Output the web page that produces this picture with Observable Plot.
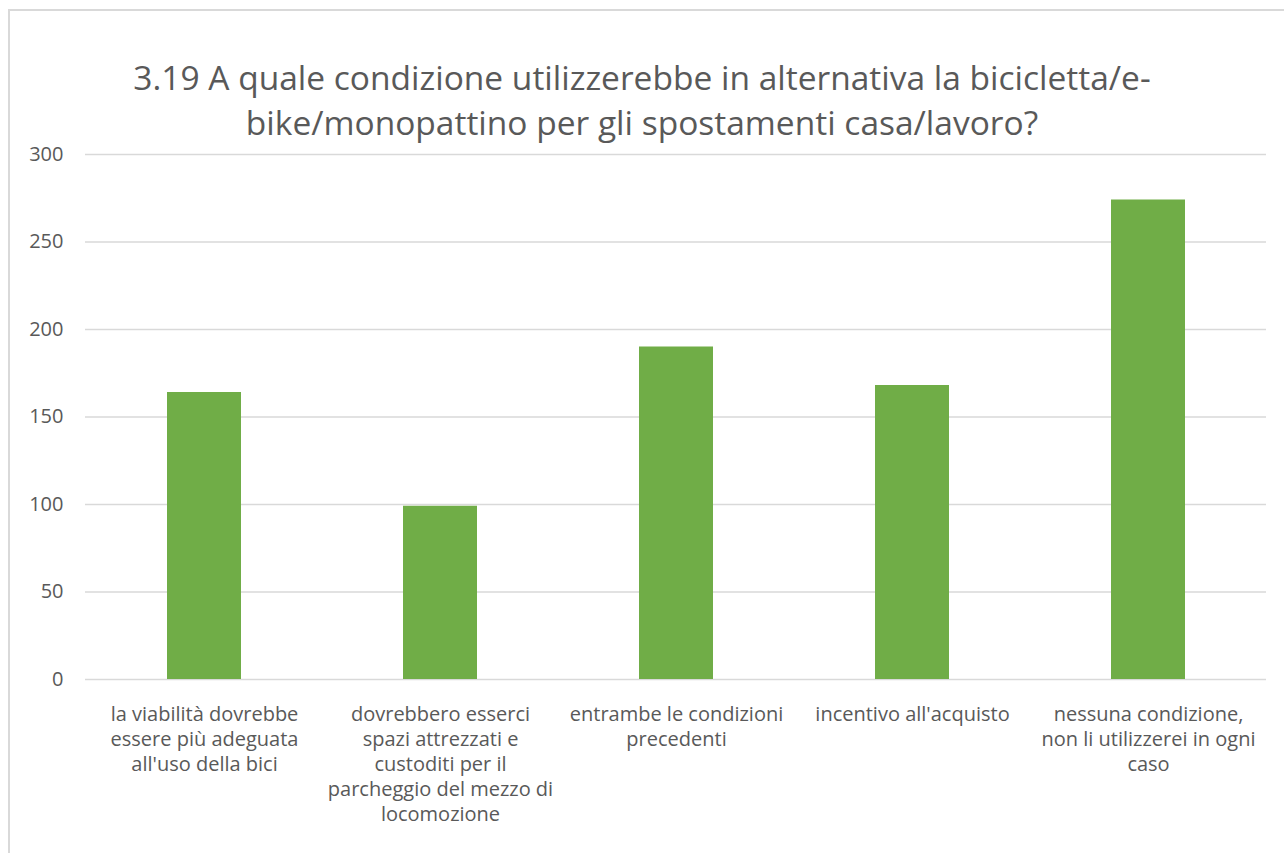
<!DOCTYPE html>
<html>
<head>
<meta charset="utf-8">
<script src="https://cdn.jsdelivr.net/npm/d3@7"></script>
<script src="https://cdn.jsdelivr.net/npm/@observablehq/plot@0.6"></script>
<style>
  html, body { margin: 0; padding: 0; background: #fff; }
  #wrap { position: relative; width: 1284px; height: 853px; overflow: hidden; font-family: "Open Sans", Lato, sans-serif; }
  #frame { position: absolute; left: 8px; top: 9px; width: 1400px; height: 1000px; border-left: 2px solid #d9d9d9; border-top: 2px solid #d9d9d9; box-sizing: border-box; }
  #title { position: absolute; left: 0; top: 55px; width: 1284px; text-align: center; font-size: 33.5px; line-height: 45px; color: #595959; }
  #chart { position: absolute; left: 0; top: 140px; }
</style>
</head>
<body>
<div id="wrap">
  <div id="frame"></div>
  <div id="title">3.19 A quale condizione utilizzerebbe in alternativa la bicicletta/e-<br>bike/monopattino per gli spostamenti casa/lavoro?</div>
  <div id="chart"></div>
</div>
<script>
const categories = [
  "la viabilità dovrebbe essere più adeguata all'uso della bici",
  "dovrebbero esserci spazi attrezzati e custoditi per il parcheggio del mezzo di locomozione",
  "entrambe le condizioni precedenti",
  "incentivo all'acquisto",
  "nessuna condizione, non li utilizzerei in ogni caso"
];
const values = [164, 99, 190, 168, 274];
const tickLabels = [
  "la viabilità dovrebbe\nessere più adeguata\nall'uso della bici",
  "dovrebbero esserci\nspazi attrezzati e\ncustoditi per il\nparcheggio del mezzo di\nlocomozione",
  "entrambe le condizioni\nprecedenti",
  "incentivo all'acquisto",
  "nessuna condizione,\nnon li utilizzerei in ogni\ncaso"
];
const yTicks = [0, 50, 100, 150, 200, 250, 300];

const data = categories.map((c, i) => ({category: c, value: values[i]}));
const labelOf = new Map(categories.map((c, i) => [c, tickLabels[i]]));

const chart = Plot.plot({
  width: 1284,
  height: 713,
  marginTop: 14,
  marginBottom: 174,
  marginLeft: 85,
  marginRight: 18,
  style: { fontFamily: "'Open Sans', Lato, sans-serif", color: "#595959", background: "transparent" },
  x: { domain: categories, paddingInner: 0.687, paddingOuter: 0.3435 },
  y: { domain: [0, 300], axis: null },
  marks: [
    Plot.gridY(yTicks, { stroke: "#d9d9d9", strokeOpacity: 1, strokeWidth: 1.3 }),
    Plot.barY(data, { x: "category", y: "value", fill: "#70ad47" }),
    Plot.text(yTicks, { y: d => d, text: d => String(d), frameAnchor: "left", textAnchor: "end",
                        dx: -22, fontSize: 20, fill: "#595959" }),
    Plot.axisX({ tickSize: 0, tickPadding: 24, fontSize: 20, fill: "#595959", label: null,
                 tickFormat: d => labelOf.get(d), lineHeight: 1.25, lineAnchor: "top" })
  ]
});
document.getElementById("chart").appendChild(chart);
</script>
</body>
</html>
